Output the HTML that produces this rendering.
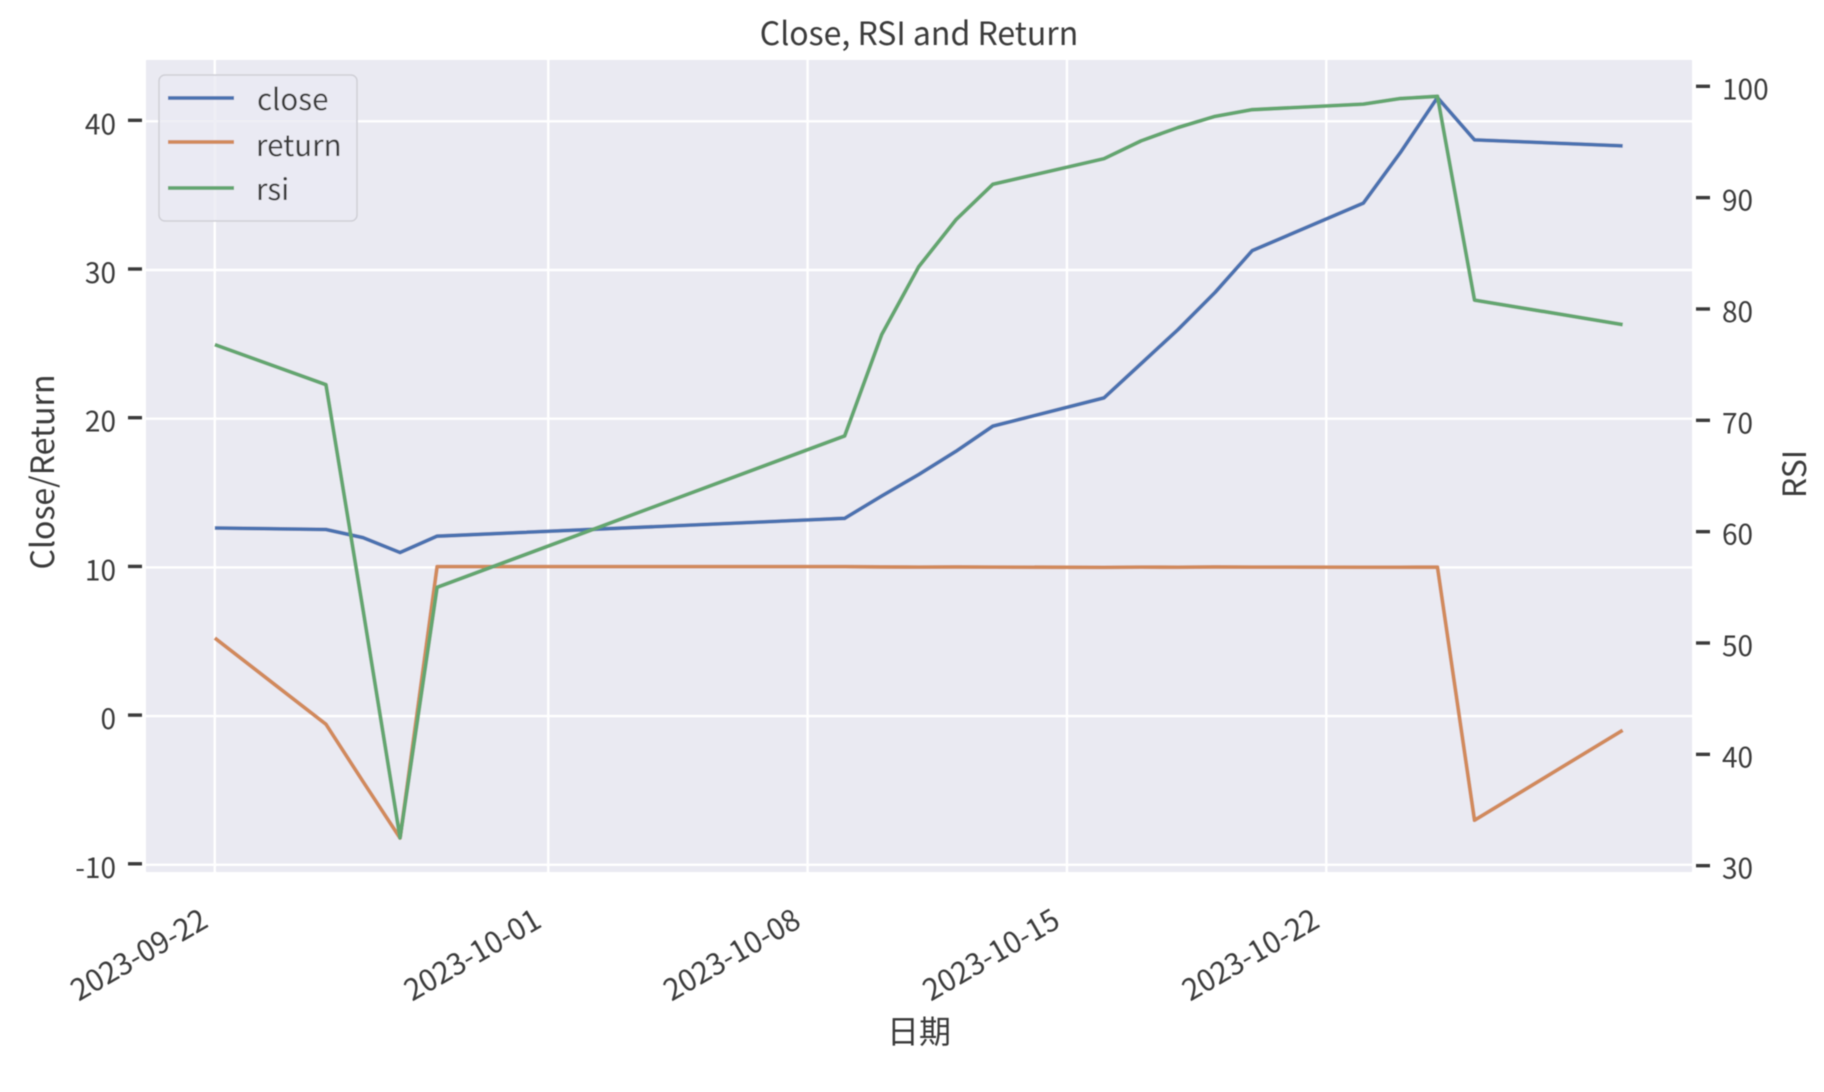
<!DOCTYPE html>
<html lang="zh">
<head>
<meta charset="utf-8">
<title>Close, RSI and Return</title>
<style>
html,body{margin:0;padding:0;background:#fff;width:1824px;height:1092px;overflow:hidden}
svg{display:block}
text{font-family:"Noto Sans CJK SC","Liberation Sans",sans-serif;fill:#3a3a3a;font-size:28px}
.big{font-size:32px}
.mid{font-size:29.5px}
</style>
</head>
<body>
<svg id="chart" xmlns="http://www.w3.org/2000/svg" width="1824" height="1092" viewBox="0 0 1824 1092">
  <defs><filter id="soft" x="-2%" y="-2%" width="104%" height="104%"><feGaussianBlur stdDeviation="0.5"/></filter></defs>
  <g id="root" filter="url(#soft)">
    <rect x="146" y="60" width="1546" height="812" fill="#eaeaf2"/>
    <g id="grid"></g>
    <g id="ticks"></g>
    <g id="series"></g>
    <g>
      <rect x="159" y="75" width="198" height="146" rx="6" fill="#eaeaf2" fill-opacity="0.8" stroke="#cfcfd6" stroke-width="1.5"/>
      <line x1="168" x2="234" y1="98" y2="98" stroke="#4c72b0" stroke-width="3.8"/>
      <text class="mid" x="257" y="110">close</text>
      <line x1="168" x2="234" y1="142" y2="142" stroke="#d18a5c" stroke-width="3.8"/>
      <text class="mid" x="256" y="156">return</text>
      <line x1="168" x2="234" y1="188" y2="188" stroke="#64a66f" stroke-width="3.8"/>
      <text class="mid" x="256" y="200">rsi</text>
    </g>
    <text class="big" x="919" y="45" text-anchor="middle">Close, RSI and Return</text>
    <text class="big" x="919" y="1043" text-anchor="middle">日期</text>
    <text class="big" transform="translate(54,472) rotate(-90)" text-anchor="middle">Close/Return</text>
    <text class="big" transform="translate(1806,474) rotate(-90)" text-anchor="middle">RSI</text>
  </g>
</svg>
<script>
const dates = ["2023-09-22","2023-09-25","2023-09-26","2023-09-27","2023-09-28","2023-10-09","2023-10-10","2023-10-11","2023-10-12","2023-10-13","2023-10-16","2023-10-17","2023-10-18","2023-10-19","2023-10-20","2023-10-23","2023-10-24","2023-10-25","2023-10-26","2023-10-30"];
const closeValues = [12.65,12.55,12.0,11.0,12.1,13.3,14.8,16.25,17.8,19.5,21.4,23.7,26.0,28.5,31.3,34.5,37.9,41.6,38.75,38.35];
const returnValues = [5.25,-0.55,-4.4,-8.2,10.05,10.05,10.03,10.02,10.03,10.02,10.0,10.02,10.01,10.03,10.02,10.01,10.01,10.02,-7.0,-0.95];
const rsiValues = [76.8,73.2,53.0,32.5,55.0,68.6,77.7,83.8,88.0,91.2,93.5,95.1,96.3,97.3,97.9,98.4,98.9,99.1,80.8,78.6];
const xTickLabels = ["2023-09-22","2023-10-01","2023-10-08","2023-10-15","2023-10-22"];
const leftTickValues = [-10,0,10,20,30,40];
const rightTickValues = [30,40,50,60,70,80,90,100];

const NS = "http://www.w3.org/2000/svg";
const DAY = 86400000;
function t(d){ return Date.parse(d + "T00:00:00Z"); }
function xScale(d){ return 214.8 + (t(d) - t("2023-09-22")) / DAY * 37.05; }
function yLeft(v){ return 121.3 + (40 - v) * 14.87; }
function yRight(v){ return 86.3 + (100 - v) * 11.134; }

function make(tag, parent, attrs){
  const el = document.createElementNS(NS, tag);
  for (const k in attrs) el.setAttribute(k, attrs[k]);
  parent.appendChild(el);
  return el;
}
const grid = document.getElementById("grid");
const ticks = document.getElementById("ticks");
const series = document.getElementById("series");

xTickLabels.forEach(function(d){
  const x = xScale(d);
  const g = make("line", grid, {x1:x, x2:x, y1:60, y2:872, stroke:"#fff", "stroke-width":2.4});
  
  
  const lab = make("text", ticks, {transform:"translate(" + (x - 5) + ",926) rotate(-30)", "text-anchor":"end", class:"mid"});
  lab.textContent = d;
  
  
});
leftTickValues.forEach(function(v){
  const y = yLeft(v);
  const g = make("line", grid, {x1:146, x2:1692, y1:y, y2:y, stroke:"#fff", "stroke-width":2.4});
  
  
  const m = make("line", ticks, {x1:128, x2:142, y1:y - 1, y2:y - 1, stroke:"#3a3a3a", "stroke-width":3.4});
  
  
  const lab = make("text", ticks, {x:116, y:y + 13, "text-anchor":"end"});
  lab.textContent = String(v);
  
  
});
rightTickValues.forEach(function(v){
  const y = yRight(v);
  const m = make("line", ticks, {x1:1696, x2:1710, y1:y, y2:y, stroke:"#3a3a3a", "stroke-width":3.4});
  
  
  const lab = make("text", ticks, {x:1722, y:y + 13});
  lab.textContent = String(v);
  
  
});
function pathFor(values, yFn){
  return values.map(function(v, i){
    return (i ? "L" : "M") + xScale(dates[i]).toFixed(2) + " " + yFn(v).toFixed(2);
  }).join(" ");
}
const closeLine = make("path", series, {d:pathFor(closeValues, yLeft), fill:"none", stroke:"#4c72b0", "stroke-width":3.8, "stroke-linejoin":"round"});


const returnLine = make("path", series, {d:pathFor(returnValues, yLeft), fill:"none", stroke:"#d18a5c", "stroke-width":3.8, "stroke-linejoin":"round"});


const rsiLine = make("path", series, {d:pathFor(rsiValues, yRight), fill:"none", stroke:"#64a66f", "stroke-width":3.8, "stroke-linejoin":"round"});


</script>
</body>
</html>
